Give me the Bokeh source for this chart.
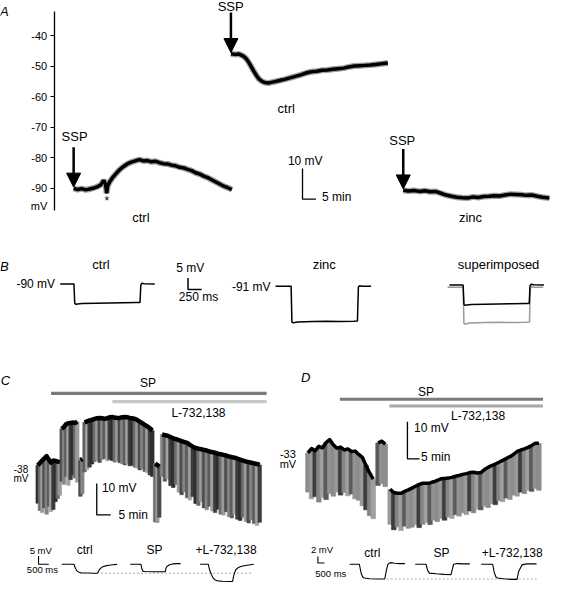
from bokeh.plotting import figure
from bokeh.models import Range1d, LinearAxis, FixedTicker, Arrow, NormalHead
from bokeh.core.properties import value
from bokeh.embed import file_html
from bokeh.resources import INLINE

# ======================= DATA =======================
# Panel A: membrane potential (mV) vs time after SSP application (min)
A_CTRL1_T = [0, 1.5, 3, 4.5, 6, 7.5, 9, 10.2, 11.2, 11.9, 12.3, 12.7, 13.4, 14.5, 15.8, 17, 18.5, 20,
             21.5, 23, 24.5, 26, 27.5, 29, 30.5, 32, 33.5, 35, 36.5, 38, 39.5, 41, 42.5, 44, 45.5,
             47, 48.5, 50, 51.5, 53, 54.5, 56, 57.5, 59]
A_CTRL1_V = [-90.0, -90.4, -90.1, -90.5, -90.2, -89.9, -89.4, -88.8, -87.4, -88.6, -91.6, -89.2,
             -87.9, -86.5, -85.2, -84.0, -82.9, -82.0, -81.4, -81.0, -80.6, -81.0, -80.9, -81.3,
             -81.1, -81.6, -81.9, -82.0, -82.4, -82.6, -83.1, -83.3, -83.8, -84.2, -84.9, -85.3,
             -86.0, -86.5, -87.2, -87.9, -88.6, -89.3, -89.8, -90.4]
A_CTRL2_T = [0, 1.5, 3, 4.5, 5.5, 6.5, 7.5, 8.5, 9.5, 10.5, 11.5, 12.5, 14, 15.5, 17, 18.5, 20, 22,
             24, 26, 28, 30, 32, 34, 36, 38, 40, 42, 44, 46, 48, 50, 52, 54, 56, 58.5]
A_CTRL2_V = [-45.9, -46.1, -46.0, -46.6, -47.3, -48.5, -50.0, -51.6, -53.0, -54.2, -54.9, -55.3,
             -55.5, -55.2, -54.9, -54.6, -54.3, -53.8, -53.3, -52.8, -52.2, -51.8, -51.6, -51.3,
             -51.2, -51.0, -50.8, -50.6, -50.2, -49.9, -49.8, -49.7, -49.6, -49.4, -49.2, -48.9]
A_ZINC_T = [0, 2, 4, 6, 8, 10, 12, 14, 16, 18, 20, 22, 24, 26, 28, 30, 32, 34, 36, 38, 40, 42, 44,
            46, 48, 50, 52, 54.5]
A_ZINC_V = [-90.6, -90.9, -90.7, -91.0, -90.8, -91.1, -91.0, -91.6, -92.2, -92.6, -92.9, -93.1,
            -93.2, -92.8, -93.0, -92.7, -92.6, -92.4, -92.5, -92.2, -91.9, -92.0, -92.1, -92.3,
            -92.2, -92.6, -92.9, -93.2]
A_TICKS = [-40, -50, -60, -70, -80, -90]
A_TICK_LABELS = ["-40", "-50", "-60", "-70", "-80", "-90"]
A_AXIS_BOUNDS = (-97.2, -32.0)
A_SCALE = (10, 5)            # mV, min

# Panel B: responses to current pulses (ms, mV)
B_CTRL_T = [-250, 0, 15, 30, 150, 400, 650, 900, 1150, 1210, 1225, 1245, 1290, 1480]
B_CTRL_V = [-90.0, -90.0, -98.4, -98.8, -98.5, -98.4, -98.3, -98.2, -98.1, -98.1, -90.4, -89.7,
            -89.9, -90.0]
B_ZINC_T = [-285, 0, 15, 40, 120, 400, 650, 900, 1150, 1215, 1232, 1255, 1300, 1465]
B_ZINC_V = [-91.0, -91.0, -106.8, -107.0, -106.6, -106.4, -106.3, -106.4, -106.3, -106.2, -91.4,
            -90.8, -91.0, -91.0]
B_SCALE = (5, 250)           # mV, ms

# Panel C: chart recording (min, mV); each pulse = one bar (top / bottom)
C_SEG_T = [
    [0.4, 1.2, 2.0, 2.8, 3.6, 4.4, 5.2, 6.0, 6.8, 7.6, 8.3],
    [9.0, 9.8, 10.6, 11.4, 12.2, 13.0, 13.8, 14.6],
    [15.7, 16.4],
    [17.2, 18.1, 19.0, 19.9, 20.8, 21.7, 22.6, 23.5, 24.4, 25.3, 26.2, 27.1, 28.0, 28.9, 29.8,
     30.7, 31.6, 32.5, 33.4, 34.3, 35.2, 36.1, 37.0, 37.9, 38.8, 39.7, 40.6, 41.5],
    [42.5, 43.3, 44.0],
    [45, 46, 47, 48, 49, 50, 51, 52, 53, 54, 55, 56, 57, 58, 59, 60, 61, 62, 63, 64, 65, 66, 67,
     68, 69, 70, 71, 72, 73, 74, 75, 76, 77, 78, 79, 80],
]
C_SEG_TOP = [
    [-38.4, -37.7, -36.9, -36.2, -35.5, -36.6, -37.6, -36.9, -37.0, -37.3, -37.4],
    [-26.8, -26.2, -25.3, -25.0, -24.9, -24.8, -24.9, -24.5],
    [-36.8, -36.4],
    [-24.7, -24.4, -24.1, -23.9, -23.6, -23.4, -23.3, -23.4, -23.6, -23.4, -23.1, -23.0, -23.2,
     -23.3, -23.3, -23.1, -23.0, -23.1, -23.3, -23.4, -23.6, -24.0, -24.5, -25.0, -25.5, -26.0,
     -26.6, -27.3],
    [-37.9, -38.3, -38.9],
    [-28.6, -28.8, -29.0, -29.4, -29.8, -30.1, -30.4, -30.7, -31.0, -31.3, -31.9, -32.5, -32.9,
     -33.1, -33.3, -33.5, -33.7, -34.0, -34.2, -34.4, -34.7, -34.9, -35.1, -35.3, -35.6, -35.8,
     -36.0, -36.3, -36.6, -36.9, -37.2, -37.4, -37.6, -37.8, -38.0, -38.3],
]
C_SEG_BOT = [
    [-50.5, -52.8, -53.5, -52.0, -54.0, -51.5, -53.2, -52.5, -50.0, -49.0, -48.0],
    [-43.5, -44.5, -42.0, -44.8, -43.0, -41.5, -42.5, -43.8],
    [-48.3, -47.5],
    [-40.5, -39.8, -39.0, -38.0, -37.2, -36.8, -37.5, -36.5, -36.3, -37.0, -36.6, -36.9, -37.4,
     -37.0, -37.6, -37.9, -38.3, -37.8, -38.6, -38.4, -39.0, -39.3, -39.9, -39.5, -40.4, -40.8,
     -41.5, -42.0],
    [-56.5, -56.7, -55.0],
    [-42.0, -43.5, -42.8, -44.9, -45.5, -44.6, -47.0, -47.8, -46.9, -48.8, -49.5, -48.4, -50.6,
     -51.2, -50.0, -52.0, -52.6, -51.5, -53.0, -53.5, -52.4, -54.0, -54.3, -53.2, -54.8, -55.2,
     -54.1, -55.6, -56.0, -55.0, -56.3, -56.8, -55.8, -57.0, -57.6, -56.6],
]
C_SP_APPL = (5.2, 82.5)      # min
C_L_APPL = (27.2, 82.5)      # min
C_SCALE = (10, 5)            # mV, min
# Panel C insets: voltage responses (ms, mV relative to baseline)
CB_CTRL_T = [-590, -300, 0, 60, 120, 180, 250, 350, 450, 700, 950, 1160, 1190, 1230, 1290, 1360,
             1450, 1550, 1700, 1900, 2110]
CB_CTRL_V = [0, 0, 0, -2.2, -3.6, -4.4, -4.9, -5.3, -5.4, -5.4, -5.5, -5.5, -4.6, -3.6, -2.6,
             -1.9, -1.4, -1.0, -0.6, -0.3, -0.1]
CB_SP_T = [-524, 0, 50, 110, 200, 600, 1000, 1190, 1220, 1280, 1400, 1550, 1750, 1940]
CB_SP_V = [0, 0, -3.0, -4.4, -4.5, -4.6, -4.6, -4.6, -2.5, -1.2, -0.3, 0.2, 0.4, 0.4]
CB_L_T = [-395, 0, 67, 160, 238, 319, 450, 700, 1000, 1190, 1238, 1290, 1348, 1450, 1586, 1750,
          1905, 2224]
CB_L_V = [0, 0, -3.4, -6.5, -8.4, -9.5, -10.2, -10.5, -10.6, -10.6, -7.5, -5.2, -3.4, -2.2, -1.4,
          -0.9, -0.6, 0]
CB_DASH_LEVEL = -5.5
CB_SCALE = (5, 500)          # mV, ms

# Panel D
D_SEG_T = [
    [0.5, 2, 3.5, 5, 6.5, 8, 9.5, 11, 12.5, 14, 15.5, 17, 18.5, 20, 21.5, 23, 24.5, 26, 27.5],
    [29.5, 31, 32.5],
    [34.5, 36, 37.5, 39, 40.5, 42, 43.5, 45, 46.5, 48, 49.5, 51, 52.5, 54, 55.5, 57, 58.5, 60,
     61.5, 63, 64.5, 66, 67.5, 69, 70.5, 72, 73.5, 75, 76.5, 78, 79.5, 81, 82.5, 84, 85.5, 87,
     88.5, 90, 91.5, 93, 94.5, 96],
]
D_SEG_TOP = [
    [-33.2, -32.0, -32.6, -31.4, -31.8, -30.4, -29.6, -31.0, -31.9, -31.6, -32.4, -32.1, -32.8,
     -32.7, -33.6, -34.4, -36.5, -38.6, -40.3],
    [-30.5, -30.0, -30.8],
    [-43.0, -43.9, -44.1, -44.1, -43.6, -43.2, -42.7, -42.2, -41.7, -41.4, -41.4, -41.3, -41.0,
     -40.6, -40.2, -40.1, -40.0, -39.8, -39.5, -39.3, -39.0, -38.8, -38.5, -38.4, -38.6, -38.5,
     -37.7, -37.1, -36.6, -36.2, -35.7, -35.2, -34.7, -34.2, -33.6, -32.8, -32.4, -32.1, -31.7,
     -31.2, -30.6, -30.6],
]
D_SEG_BOT = [
    [-43.8, -45.6, -45.0, -46.5, -45.2, -45.8, -44.2, -44.9, -43.8, -44.6, -43.9, -44.8, -44.3,
     -45.6, -46.0, -47.5, -48.6, -50.2, -51.0],
    [-42.0, -41.5, -42.3],
    [-52.5, -54.0, -53.2, -54.2, -53.0, -53.6, -53.3, -52.6, -53.4, -52.5, -52.0, -52.6, -51.4,
     -51.8, -50.9, -51.4, -50.5, -50.9, -49.9, -50.3, -49.4, -49.9, -48.9, -49.4, -48.4, -48.6,
     -47.6, -48.0, -46.9, -47.2, -46.1, -46.4, -45.4, -45.8, -44.6, -44.9, -43.8, -44.2, -43.3,
     -43.6, -42.8, -43.3],
]
D_SP_APPL = (13.7, 97.7)
D_L_APPL = (34.2, 97.7)
D_SCALE = (10, 5)
DB_CTRL_T = [-746, 0, 120, 250, 373, 800, 1400, 1940, 2060, 2187, 2366, 2700, 3100, 3485]
DB_CTRL_V = [0, 0, -2.5, -3.9, -4.2, -4.4, -4.5, -4.5, -2.0, 0, 0.5, 0.3, 0.2, 0.2]
DB_SP_T = [-821, 0, 120, 254, 800, 1400, 1918, 2020, 2119, 2400, 2900, 3358]
DB_SP_V = [0, 0, -1.8, -2.7, -2.9, -3.1, -3.2, -1.5, 0, 0.2, 0.1, 0.1]
DB_L_T = [-873, 0, 120, 250, 373, 800, 1400, 1866, 1990, 2239, 2600, 3000, 3358]
DB_L_V = [0, 0, -2.5, -3.9, -4.2, -4.4, -4.6, -4.6, -2.2, -0.2, 0.1, 0.1, 0.1]
DB_DASH_LEVEL = -4.5
DB_SCALE = (2, 500)

# ======================= LAYOUT =======================
W, H = 550, 585
X_LO, X_HI = 2.0, 566.0      # layout units across the frame
Y_TOP, Y_BOT = -1.0, 596.0
FONT = "Liberation Sans"

p = figure(width=W, height=H, x_range=Range1d(X_LO, X_HI), y_range=Range1d(Y_BOT, Y_TOP),
           x_axis_type=None, y_axis_type=None, toolbar_location=None, output_backend="svg",
           min_border=0, outline_line_color=None, background_fill_color="white",
           border_fill_color="white")
p.grid.visible = False


def add_x(name, px0, ppu):
    p.extra_x_ranges[name] = Range1d(start=(X_LO - px0) / ppu, end=(X_HI - px0) / ppu)
    return (px0, ppu)


def add_y(name, py0, v0, ppu):
    p.extra_y_ranges[name] = Range1d(start=v0 - (Y_BOT - py0) / ppu, end=v0 + (py0 - Y_TOP) / ppu)
    return (py0, v0, ppu)


def xv(m, px):
    return (px - m[0]) / m[1]


def yv(m, py):
    return m[1] + (m[0] - py) / m[2]


def scalebar(xn, yn, xm, ym, corner, dy, dx, lw=1.3):
    cx, cy = xv(xm, corner[0]), yv(ym, corner[1])
    p.line(x=[cx, cx, cx + dx], y=[cy + dy, cy, cy], x_range_name=xn, y_range_name=yn,
           line_color="black", line_width=lw)


def label(txt, x, y, size=12, align="center", style="normal"):
    p.text(x=[x], y=[y], text=[txt], text_font=value(FONT), text_font_size=value(f"{size}px"),
           text_align=align, text_baseline="middle", text_color="black", text_font_style=style)


# ---------------- Panel A ----------------
ya = add_y("A_y", 35.0, -40.0, 3.114)
xa = [add_x("A1", 77.0, 2.75), add_x("A2", 238.3, 2.75), add_x("A3", 415.0, 2.75)]
for xn, ts, vs in (("A1", A_CTRL1_T, A_CTRL1_V), ("A2", A_CTRL2_T, A_CTRL2_V),
                   ("A3", A_ZINC_T, A_ZINC_V)):
    p.line(x=ts, y=vs, x_range_name=xn, y_range_name="A_y", line_color="#a0a0a0", line_width=6)
    p.line(x=ts, y=vs, x_range_name=xn, y_range_name="A_y", line_color="black", line_width=3.5)
    v0 = vs[0]
    p.add_layout(Arrow(end=NormalHead(size=14, fill_color="black", line_color="black"),
                       x_start=ts[0], y_start=v0 + 42 / 3.114, x_end=ts[0], y_end=v0 + 0.4,
                       line_width=2.5, line_color="black", x_range_name=xn, y_range_name="A_y"))

axA = LinearAxis(y_range_name="A_y", fixed_location=57.0, bounds=A_AXIS_BOUNDS,
                 ticker=FixedTicker(ticks=A_TICKS),
                 major_label_overrides={t: s for t, s in zip(A_TICKS, A_TICK_LABELS)},
                 axis_line_color="black", axis_line_width=1.3,
                 major_tick_line_color="black", major_tick_line_width=1.1,
                 major_tick_in=0, major_tick_out=4, minor_tick_line_color=None,
                 major_label_standoff=3, major_label_text_font=FONT,
                 major_label_text_font_size="11px", major_label_text_color="black")
p.add_layout(axA, "left")
scalebar("A1", "A_y", xa[0], ya, (311.7, 201.7), A_SCALE[0], A_SCALE[1])

label("A", 6, 10, 13, style="italic")
label("mV", 50, 209, 11, "right")
label("SSP", 78, 138, 13)
label("SSP", 238, 5, 13)
label("SSP", 414, 142, 13)
label("ctrl", 295, 109, 13)
label("ctrl", 146, 220, 13)
label("zinc", 484, 220, 13)
label("*", 111, 204, 12)
label("10 mV", 296.7, 162.7, 12, "left")
label("5 min", 331.7, 200, 12, "left")

# ---------------- Panel B ----------------
yb1 = add_y("B1_y", 288.3, -90.0, 2.34)
yb2 = add_y("B2_y", 290.5, -91.0, 2.34)
yb3 = add_y("B3_y", 289.3, -90.0, 2.34)
xb1 = add_x("B1", 77.3, 0.056)
xb2 = add_x("B2", 300.0, 0.056)
xb3 = add_x("B3", 476.4, 0.056)
p.line(x=B_CTRL_T, y=B_CTRL_V, x_range_name="B1", y_range_name="B1_y", line_color="black",
       line_width=1.5)
p.line(x=B_ZINC_T, y=B_ZINC_V, x_range_name="B2", y_range_name="B2_y", line_color="black",
       line_width=1.5)
p.line(x=B_ZINC_T, y=B_ZINC_V, x_range_name="B3", y_range_name="B3_y", line_color="#9a9a9a",
       line_width=1.5)
p.line(x=B_CTRL_T, y=B_CTRL_V, x_range_name="B3", y_range_name="B3_y", line_color="black",
       line_width=1.5)
scalebar("B1", "B1_y", xb1, yb1, (194.3, 294.0), B_SCALE[0], B_SCALE[1], lw=1.5)

label("B", 6, 270, 13, style="italic")
label("ctrl", 105, 268, 13)
label("-90 mV", 58, 288.3, 12, "right")
label("5 mV", 196.7, 271.7, 12)
label("250 ms", 205, 301.7, 12)
label("zinc", 334, 268, 13)
label("-91 mV", 279, 291, 12, "right")
label("superimposed", 512.7, 268, 13)

# ---------------- Panels C and D ----------------
C_SHADES = ["#2e2e2e", "#6b6b6b", "#9b9b9b", "#4d4d4d", "#858585", "#5c5c5c", "#a3a3a3", "#3d3d3d"]
D_SHADES = ["#8c8c8c", "#9a9a9a", "#3c3c3c", "#858585", "#a0a0a0", "#5a5a5a", "#929292"]


def chart(tag, segT, segTop, segBot, shades, barw, envw, sp, lq, sp_y, lq_y, lq_col, bar_lw):
    ts = [t for s in segT for t in s]
    tops = [v for s in segTop for v in s]
    bots = [v for s in segBot for v in s]
    cols = [shades[i % len(shades)] for i in range(len(ts))]
    p.vbar(x=ts, width=barw, top=tops, bottom=bots, fill_color=cols, line_color=cols,
           line_width=0.6, x_range_name=tag, y_range_name=tag + "_y")
    p.multi_line(xs=segT, ys=segTop, x_range_name=tag, y_range_name=tag + "_y",
                 line_color="black", line_width=envw, line_join="round")
    p.segment(x0=[sp[0]], x1=[sp[1]], y0=[sp_y], y1=[sp_y], x_range_name=tag,
              line_color="#7a7a7a", line_width=bar_lw, line_cap="butt")
    p.segment(x0=[lq[0]], x1=[lq[1]], y0=[lq_y], y1=[lq_y], x_range_name=tag,
              line_color=lq_col, line_width=bar_lw, line_cap="butt")


xc = add_x("C", 39.0, 2.86)
yc = add_y("C_y", 472.0, -38.0, 3.2)
chart("C", C_SEG_T, C_SEG_TOP, C_SEG_BOT, C_SHADES, 1.25, 4.5, C_SP_APPL, C_L_APPL,
      400.0, 408.3, "#c8c8c8", 3.3)
scalebar("C", "C_y", xc, yc, (100.7, 524.0), C_SCALE[0], C_SCALE[1])

xd = add_x("D", 316.0, 2.48)
yd = add_y("D_y", 460.0, -33.0, 3.77)
chart("D", D_SEG_T, D_SEG_TOP, D_SEG_BOT, D_SHADES, 1.9, 3.5, D_SP_APPL, D_L_APPL,
      406.0, 412.7, "#a8a8a8", 3.0)
scalebar("D", "D_y", xd, yd, (419.3, 466.7), D_SCALE[0], D_SCALE[1])

# insets
ycb = add_y("Cb_y", 574.3, 0.0, 1.66)
xcb = [add_x("Cb1", 77.3, 0.021), add_x("Cb2", 146.0, 0.021), add_x("Cb3", 215.0, 0.021)]
p.line(x=[105.0, 260.0], y=[CB_DASH_LEVEL, CB_DASH_LEVEL], y_range_name="Cb_y",
       line_color="#a8a8a8", line_width=1, line_dash="2 2")
for xn, ts, vs in (("Cb1", CB_CTRL_T, CB_CTRL_V), ("Cb2", CB_SP_T, CB_SP_V),
                   ("Cb3", CB_L_T, CB_L_V)):
    p.line(x=ts, y=vs, x_range_name=xn, y_range_name="Cb_y", line_color="black", line_width=1.1)
scalebar("Cb1", "Cb_y", xcb[0], ycb, (41.0, 574.3), CB_SCALE[0], CB_SCALE[1], lw=1.1)

ydb = add_y("Db_y", 574.3, 0.0, 3.35)
xdb = [add_x("Db1", 370.0, 0.0134), add_x("Db2", 438.3, 0.0134), add_x("Db3", 506.7, 0.0134)]
p.line(x=[398.0, 553.0], y=[DB_DASH_LEVEL, DB_DASH_LEVEL], y_range_name="Db_y",
       line_color="#a8a8a8", line_width=1, line_dash="2 2")
for xn, ts, vs in (("Db1", DB_CTRL_T, DB_CTRL_V), ("Db2", DB_SP_T, DB_SP_V),
                   ("Db3", DB_L_T, DB_L_V)):
    p.line(x=ts, y=vs, x_range_name=xn, y_range_name="Db_y", line_color="black", line_width=1.1)
scalebar("Db1", "Db_y", xdb[0], ydb, (327.5, 573.0), DB_SCALE[0], DB_SCALE[1], lw=1.1)

label("C", 7, 387.3, 13, style="italic")
label("SP", 153.3, 389.3, 12)
label("L-732,138", 205, 420, 12)
label("-38", 23, 476.7, 10)
label("mV", 23, 486.7, 10)
label("10 mV", 106, 496.7, 12, "left")
label("5 min", 123, 524, 12, "left")
label("5 mV", 43.3, 560.7, 9.5)
label("500 ms", 45, 579.3, 9.5)
label("ctrl", 88.3, 560, 12)
label("SP", 160, 560, 12)
label("+L-732,138", 233.3, 560, 12)

label("D", 315, 383.3, 13, style="italic")
label("SP", 438.3, 398.3, 12)
label("L-732,138", 491.7, 423.3, 12)
label("-33", 296.7, 461.7, 11)
label("mV", 296.7, 471.7, 11)
label("10 mV", 426, 435, 12, "left")
label("5 min", 433.3, 465, 12, "left")
label("2 mV", 331.7, 559.3, 9.5)
label("500 ms", 340.7, 583.3, 9.5)
label("ctrl", 383.3, 563.3, 12)
label("SP", 454.3, 563.3, 12)
label("+L-732,138", 526.7, 563.3, 12)

open("out.html", "w").write(file_html(p, INLINE))
